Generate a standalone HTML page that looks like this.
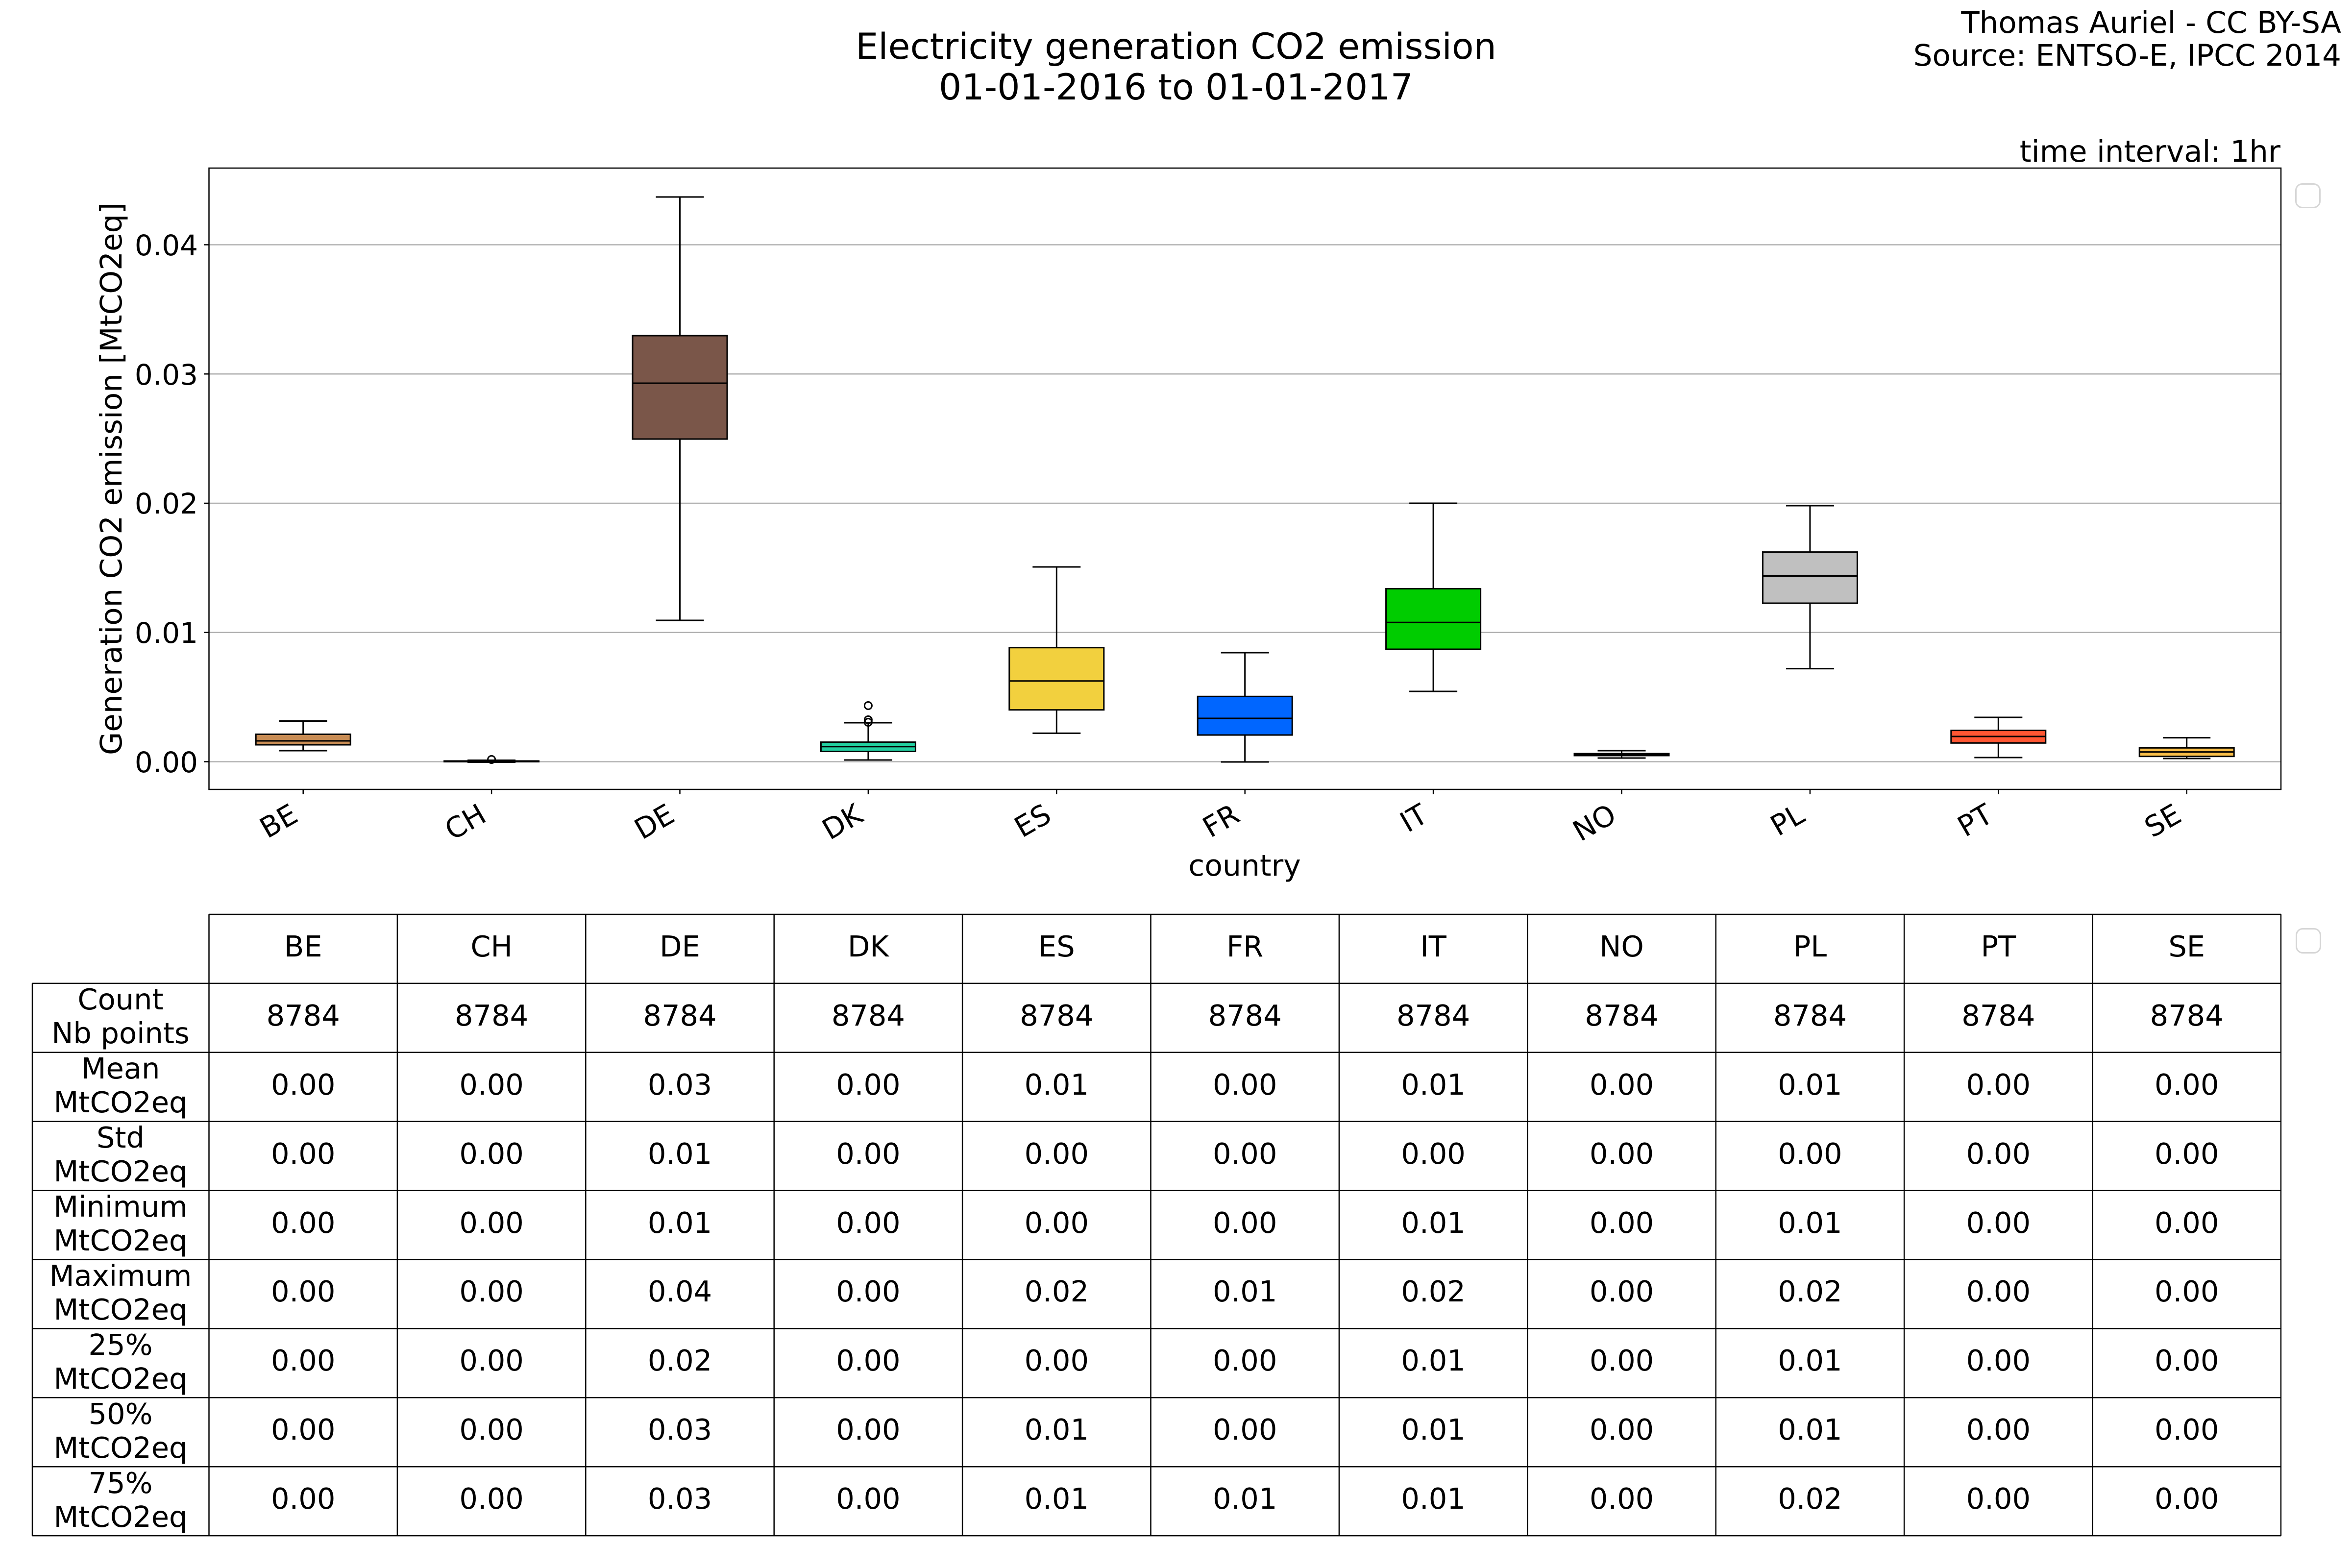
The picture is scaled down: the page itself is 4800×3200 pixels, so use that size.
<!DOCTYPE html>
<html>
<head>
<meta charset="utf-8">
<style>
html,body{margin:0;padding:0;background:#fff;}
svg{display:block;}
text{font-family:"DejaVu Sans","Liberation Sans",sans-serif;fill:#000;}
</style>
</head>
<body>
<svg width="4800" height="3200" viewBox="0 0 4800 3200" xmlns="http://www.w3.org/2000/svg">
<rect x="0" y="0" width="4800" height="3200" fill="#fff"/>

<!-- Titles -->
<text x="2400" y="120" font-size="73" text-anchor="middle">Electricity generation CO2 emission</text>
<text x="2400" y="203" font-size="73" text-anchor="middle">01-01-2016 to 01-01-2017</text>
<text x="4778" y="67" font-size="61" text-anchor="end">Thomas Auriel - CC BY-SA</text>
<text x="4778" y="134" font-size="61" text-anchor="end">Source: ENTSO-E, IPCC 2014</text>
<text x="4654" y="330" font-size="61" text-anchor="end">time interval: 1hr</text>

<!-- Grid lines -->
<g stroke="#b0b0b0" stroke-width="2.5">
<line x1="426.5" y1="1554.5" x2="4655" y2="1554.5"/>
<line x1="426.5" y1="1290.75" x2="4655" y2="1290.75"/>
<line x1="426.5" y1="1027" x2="4655" y2="1027"/>
<line x1="426.5" y1="763.25" x2="4655" y2="763.25"/>
<line x1="426.5" y1="499.5" x2="4655" y2="499.5"/>
</g>

<!-- Boxes -->
<g stroke="#000" stroke-width="3" fill="none">
<!-- BE -->
<rect x="522.2" y="1498.5" width="193" height="21.5" fill="#c88c54"/>
<line x1="522.2" y1="1512" x2="715.2" y2="1512"/>
<line x1="618.7" y1="1471.5" x2="618.7" y2="1498.5"/>
<line x1="618.7" y1="1520" x2="618.7" y2="1532"/>
<line x1="569.7" y1="1471.5" x2="667.7" y2="1471.5"/>
<line x1="569.7" y1="1532" x2="667.7" y2="1532"/>
<!-- CH -->
<rect x="906.6" y="1553" width="193" height="1.5" fill="#888"/>
<line x1="906.6" y1="1554" x2="1099.6" y2="1554"/>
<line x1="954.1" y1="1552" x2="1052.1" y2="1552" stroke-width="4"/>
<line x1="954.1" y1="1555" x2="1052.1" y2="1555" stroke-width="4"/>
<circle cx="1003.1" cy="1550" r="7.5"/>
<!-- DE -->
<rect x="1291" y="685" width="193" height="211" fill="#7a5649"/>
<line x1="1291" y1="782" x2="1484" y2="782"/>
<line x1="1387.5" y1="402" x2="1387.5" y2="685"/>
<line x1="1387.5" y1="896" x2="1387.5" y2="1266"/>
<line x1="1338.5" y1="402" x2="1436.5" y2="402"/>
<line x1="1338.5" y1="1266" x2="1436.5" y2="1266"/>
<!-- DK -->
<rect x="1675.4" y="1514.6" width="193" height="18.9" fill="#22cfa0"/>
<line x1="1675.4" y1="1523.7" x2="1868.4" y2="1523.7"/>
<line x1="1771.9" y1="1475" x2="1771.9" y2="1514.6"/>
<line x1="1771.9" y1="1533.5" x2="1771.9" y2="1551"/>
<line x1="1722.9" y1="1475" x2="1820.9" y2="1475"/>
<line x1="1722.9" y1="1551" x2="1820.9" y2="1551"/>
<circle cx="1771.9" cy="1440" r="7.5"/>
<circle cx="1771.9" cy="1469" r="7.5"/>
<circle cx="1771.9" cy="1474" r="7.5"/>
<!-- ES -->
<rect x="2059.8" y="1321.7" width="193" height="127" fill="#f2d03e"/>
<line x1="2059.8" y1="1389.7" x2="2252.8" y2="1389.7"/>
<line x1="2156.3" y1="1157" x2="2156.3" y2="1321.7"/>
<line x1="2156.3" y1="1448.7" x2="2156.3" y2="1496.4"/>
<line x1="2107.3" y1="1157" x2="2205.3" y2="1157"/>
<line x1="2107.3" y1="1496.4" x2="2205.3" y2="1496.4"/>
<!-- FR -->
<rect x="2444.2" y="1421.3" width="193" height="78.7" fill="#0066ff"/>
<line x1="2444.2" y1="1466" x2="2637.2" y2="1466"/>
<line x1="2540.7" y1="1332" x2="2540.7" y2="1421.3"/>
<line x1="2540.7" y1="1500" x2="2540.7" y2="1555"/>
<line x1="2491.7" y1="1332" x2="2589.7" y2="1332"/>
<line x1="2491.7" y1="1555" x2="2589.7" y2="1555"/>
<!-- IT -->
<rect x="2828.6" y="1201.4" width="193" height="123.6" fill="#00cc00"/>
<line x1="2828.6" y1="1270.3" x2="3021.6" y2="1270.3"/>
<line x1="2925.1" y1="1027" x2="2925.1" y2="1201.4"/>
<line x1="2925.1" y1="1325" x2="2925.1" y2="1411"/>
<line x1="2876.1" y1="1027" x2="2974.1" y2="1027"/>
<line x1="2876.1" y1="1411" x2="2974.1" y2="1411"/>
<!-- NO -->
<rect x="3213" y="1538" width="193" height="4" fill="#5577aa"/>
<line x1="3213" y1="1540" x2="3406" y2="1540"/>
<line x1="3309.5" y1="1532" x2="3309.5" y2="1547"/>
<line x1="3260.5" y1="1532" x2="3358.5" y2="1532"/>
<line x1="3260.5" y1="1547" x2="3358.5" y2="1547"/>
<!-- PL -->
<rect x="3597.4" y="1126.6" width="193" height="104.4" fill="#c0c0c0"/>
<line x1="3597.4" y1="1175.5" x2="3790.4" y2="1175.5"/>
<line x1="3693.9" y1="1032" x2="3693.9" y2="1126.6"/>
<line x1="3693.9" y1="1231" x2="3693.9" y2="1364.6"/>
<line x1="3644.9" y1="1032" x2="3742.9" y2="1032"/>
<line x1="3644.9" y1="1364.6" x2="3742.9" y2="1364.6"/>
<!-- PT -->
<rect x="3981.8" y="1490.6" width="193" height="25.7" fill="#ff5733"/>
<line x1="3981.8" y1="1503" x2="4174.8" y2="1503"/>
<line x1="4078.3" y1="1464" x2="4078.3" y2="1490.6"/>
<line x1="4078.3" y1="1516.3" x2="4078.3" y2="1546"/>
<line x1="4029.3" y1="1464" x2="4127.3" y2="1464"/>
<line x1="4029.3" y1="1546" x2="4127.3" y2="1546"/>
<!-- SE -->
<rect x="4366.2" y="1526.3" width="193" height="17.4" fill="#f9be48"/>
<line x1="4366.2" y1="1534.6" x2="4559.2" y2="1534.6"/>
<line x1="4462.7" y1="1505.6" x2="4462.7" y2="1526.3"/>
<line x1="4462.7" y1="1543.7" x2="4462.7" y2="1548"/>
<line x1="4414.2" y1="1505.6" x2="4511.2" y2="1505.6"/>
<line x1="4414.2" y1="1548" x2="4511.2" y2="1548"/>
</g>

<!-- Axes frame -->
<rect x="426.5" y="343" width="4228.5" height="1268" fill="none" stroke="#000" stroke-width="2.5"/>

<!-- Y ticks -->
<g stroke="#000" stroke-width="2.5">
<line x1="416" y1="1554.5" x2="426.5" y2="1554.5"/>
<line x1="416" y1="1290.75" x2="426.5" y2="1290.75"/>
<line x1="416" y1="1027" x2="426.5" y2="1027"/>
<line x1="416" y1="763.25" x2="426.5" y2="763.25"/>
<line x1="416" y1="499.5" x2="426.5" y2="499.5"/>
</g>
<g font-size="58" text-anchor="end">
<text x="404" y="1576">0.00</text>
<text x="404" y="1312">0.01</text>
<text x="404" y="1048">0.02</text>
<text x="404" y="785">0.03</text>
<text x="404" y="521">0.04</text>
</g>

<!-- X ticks -->
<g stroke="#000" stroke-width="2.5">
<line x1="618.7" y1="1611" x2="618.7" y2="1621"/>
<line x1="1003.1" y1="1611" x2="1003.1" y2="1621"/>
<line x1="1387.5" y1="1611" x2="1387.5" y2="1621"/>
<line x1="1771.9" y1="1611" x2="1771.9" y2="1621"/>
<line x1="2156.3" y1="1611" x2="2156.3" y2="1621"/>
<line x1="2540.7" y1="1611" x2="2540.7" y2="1621"/>
<line x1="2925.1" y1="1611" x2="2925.1" y2="1621"/>
<line x1="3309.5" y1="1611" x2="3309.5" y2="1621"/>
<line x1="3693.9" y1="1611" x2="3693.9" y2="1621"/>
<line x1="4078.3" y1="1611" x2="4078.3" y2="1621"/>
<line x1="4462.7" y1="1611" x2="4462.7" y2="1621"/>
</g>
<g font-size="58" text-anchor="end">
<text transform="translate(611.7,1674) rotate(-30)">BE</text>
<text transform="translate(996.1,1674) rotate(-30)">CH</text>
<text transform="translate(1380.5,1674) rotate(-30)">DE</text>
<text transform="translate(1764.9,1674) rotate(-30)">DK</text>
<text transform="translate(2149.3,1674) rotate(-30)">ES</text>
<text transform="translate(2533.7,1674) rotate(-30)">FR</text>
<text transform="translate(2918.1,1674) rotate(-30)">IT</text>
<text transform="translate(3302.5,1674) rotate(-30)">NO</text>
<text transform="translate(3686.9,1674) rotate(-30)">PL</text>
<text transform="translate(4071.3,1674) rotate(-30)">PT</text>
<text transform="translate(4455.7,1674) rotate(-30)">SE</text>
</g>

<!-- Axis labels -->
<text x="2540" y="1787" font-size="60" text-anchor="middle">country</text>
<text transform="translate(248,977) rotate(-90)" font-size="61" text-anchor="middle">Generation CO2 emission [MtCO2eq]</text>

<!-- Empty legends -->
<rect x="4685.5" y="375.5" width="49" height="48" rx="13" ry="13" fill="#fff" stroke="#d6d6d6" stroke-width="3"/>
<rect x="4686.5" y="1895.5" width="49" height="49" rx="13" ry="13" fill="#fff" stroke="#d6d6d6" stroke-width="3"/>

<!-- Table grid -->
<g stroke="#000" stroke-width="2.5" fill="none">
<line x1="426.5" y1="1866" x2="4655" y2="1866"/>
<line x1="66" y1="2006.9" x2="4655" y2="2006.9"/>
<line x1="66" y1="2147.8" x2="4655" y2="2147.8"/>
<line x1="66" y1="2288.7" x2="4655" y2="2288.7"/>
<line x1="66" y1="2429.6" x2="4655" y2="2429.6"/>
<line x1="66" y1="2570.5" x2="4655" y2="2570.5"/>
<line x1="66" y1="2711.4" x2="4655" y2="2711.4"/>
<line x1="66" y1="2852.3" x2="4655" y2="2852.3"/>
<line x1="66" y1="2993.2" x2="4655" y2="2993.2"/>
<line x1="66" y1="3134.1" x2="4655" y2="3134.1"/>
<line x1="66" y1="2006.9" x2="66" y2="3134.1"/>
<line x1="426.5" y1="1866" x2="426.5" y2="3134.1"/>
<line x1="810.9" y1="1866" x2="810.9" y2="3134.1"/>
<line x1="1195.3" y1="1866" x2="1195.3" y2="3134.1"/>
<line x1="1579.7" y1="1866" x2="1579.7" y2="3134.1"/>
<line x1="1964.1" y1="1866" x2="1964.1" y2="3134.1"/>
<line x1="2348.5" y1="1866" x2="2348.5" y2="3134.1"/>
<line x1="2732.9" y1="1866" x2="2732.9" y2="3134.1"/>
<line x1="3117.3" y1="1866" x2="3117.3" y2="3134.1"/>
<line x1="3501.7" y1="1866" x2="3501.7" y2="3134.1"/>
<line x1="3886.1" y1="1866" x2="3886.1" y2="3134.1"/>
<line x1="4270.5" y1="1866" x2="4270.5" y2="3134.1"/>
<line x1="4654.9" y1="1866" x2="4654.9" y2="3134.1"/>
</g>

<!-- Table row labels -->
<g font-size="59" text-anchor="middle">
<text x="246" y="2060">Count</text><text x="246" y="2129">Nb points</text>
<text x="246" y="2201">Mean</text><text x="246" y="2270">MtCO2eq</text>
<text x="246" y="2342">Std</text><text x="246" y="2411">MtCO2eq</text>
<text x="246" y="2483">Minimum</text><text x="246" y="2552">MtCO2eq</text>
<text x="246" y="2624">Maximum</text><text x="246" y="2693">MtCO2eq</text>
<text x="246" y="2765">25%</text><text x="246" y="2834">MtCO2eq</text>
<text x="246" y="2906">50%</text><text x="246" y="2975">MtCO2eq</text>
<text x="246" y="3047">75%</text><text x="246" y="3116">MtCO2eq</text>
</g>

<!-- Table cells -->
<g font-size="59" text-anchor="middle">
<!-- header -->
<text x="618.7" y="1952">BE</text><text x="1003.1" y="1952">CH</text><text x="1387.5" y="1952">DE</text><text x="1771.9" y="1952">DK</text><text x="2156.3" y="1952">ES</text><text x="2540.7" y="1952">FR</text><text x="2925.1" y="1952">IT</text><text x="3309.5" y="1952">NO</text><text x="3693.9" y="1952">PL</text><text x="4078.3" y="1952">PT</text><text x="4462.7" y="1952">SE</text>
<!-- count -->
<text x="618.7" y="2093">8784</text><text x="1003.1" y="2093">8784</text><text x="1387.5" y="2093">8784</text><text x="1771.9" y="2093">8784</text><text x="2156.3" y="2093">8784</text><text x="2540.7" y="2093">8784</text><text x="2925.1" y="2093">8784</text><text x="3309.5" y="2093">8784</text><text x="3693.9" y="2093">8784</text><text x="4078.3" y="2093">8784</text><text x="4462.7" y="2093">8784</text>
<!-- mean -->
<text x="618.7" y="2234">0.00</text><text x="1003.1" y="2234">0.00</text><text x="1387.5" y="2234">0.03</text><text x="1771.9" y="2234">0.00</text><text x="2156.3" y="2234">0.01</text><text x="2540.7" y="2234">0.00</text><text x="2925.1" y="2234">0.01</text><text x="3309.5" y="2234">0.00</text><text x="3693.9" y="2234">0.01</text><text x="4078.3" y="2234">0.00</text><text x="4462.7" y="2234">0.00</text>
<!-- std -->
<text x="618.7" y="2375">0.00</text><text x="1003.1" y="2375">0.00</text><text x="1387.5" y="2375">0.01</text><text x="1771.9" y="2375">0.00</text><text x="2156.3" y="2375">0.00</text><text x="2540.7" y="2375">0.00</text><text x="2925.1" y="2375">0.00</text><text x="3309.5" y="2375">0.00</text><text x="3693.9" y="2375">0.00</text><text x="4078.3" y="2375">0.00</text><text x="4462.7" y="2375">0.00</text>
<!-- min -->
<text x="618.7" y="2516">0.00</text><text x="1003.1" y="2516">0.00</text><text x="1387.5" y="2516">0.01</text><text x="1771.9" y="2516">0.00</text><text x="2156.3" y="2516">0.00</text><text x="2540.7" y="2516">0.00</text><text x="2925.1" y="2516">0.01</text><text x="3309.5" y="2516">0.00</text><text x="3693.9" y="2516">0.01</text><text x="4078.3" y="2516">0.00</text><text x="4462.7" y="2516">0.00</text>
<!-- max -->
<text x="618.7" y="2656">0.00</text><text x="1003.1" y="2656">0.00</text><text x="1387.5" y="2656">0.04</text><text x="1771.9" y="2656">0.00</text><text x="2156.3" y="2656">0.02</text><text x="2540.7" y="2656">0.01</text><text x="2925.1" y="2656">0.02</text><text x="3309.5" y="2656">0.00</text><text x="3693.9" y="2656">0.02</text><text x="4078.3" y="2656">0.00</text><text x="4462.7" y="2656">0.00</text>
<!-- 25% -->
<text x="618.7" y="2797">0.00</text><text x="1003.1" y="2797">0.00</text><text x="1387.5" y="2797">0.02</text><text x="1771.9" y="2797">0.00</text><text x="2156.3" y="2797">0.00</text><text x="2540.7" y="2797">0.00</text><text x="2925.1" y="2797">0.01</text><text x="3309.5" y="2797">0.00</text><text x="3693.9" y="2797">0.01</text><text x="4078.3" y="2797">0.00</text><text x="4462.7" y="2797">0.00</text>
<!-- 50% -->
<text x="618.7" y="2938">0.00</text><text x="1003.1" y="2938">0.00</text><text x="1387.5" y="2938">0.03</text><text x="1771.9" y="2938">0.00</text><text x="2156.3" y="2938">0.01</text><text x="2540.7" y="2938">0.00</text><text x="2925.1" y="2938">0.01</text><text x="3309.5" y="2938">0.00</text><text x="3693.9" y="2938">0.01</text><text x="4078.3" y="2938">0.00</text><text x="4462.7" y="2938">0.00</text>
<!-- 75% -->
<text x="618.7" y="3079">0.00</text><text x="1003.1" y="3079">0.00</text><text x="1387.5" y="3079">0.03</text><text x="1771.9" y="3079">0.00</text><text x="2156.3" y="3079">0.01</text><text x="2540.7" y="3079">0.01</text><text x="2925.1" y="3079">0.01</text><text x="3309.5" y="3079">0.00</text><text x="3693.9" y="3079">0.02</text><text x="4078.3" y="3079">0.00</text><text x="4462.7" y="3079">0.00</text>
</g>
</svg>
</body>
</html>
